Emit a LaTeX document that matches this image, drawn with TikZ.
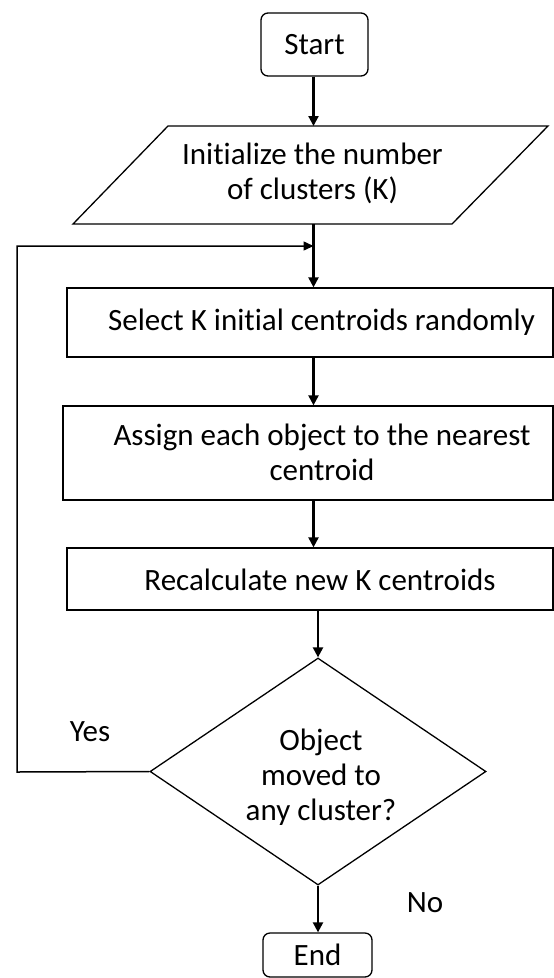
\documentclass[tikz,border=0pt]{standalone}
\usepackage{fontspec}
\setmainfont{Carlito}[Ligatures=NoCommon]
\usetikzlibrary{shapes.geometric,arrows.meta}
\tikzset{
  box/.style={draw,line width=1.3pt,inner sep=0pt},
  rbox/.style={box,rounded corners=7pt,align=center,font=\fontsize{31}{35}\selectfont},
  txt/.style={inner sep=0pt,align=center,font=\fontsize{31}{35}\selectfont},
  arr/.style={line width=2.2pt,-{Triangle[length=10pt,width=10pt]}},
  fb/.style={line width=1.5pt},
}
\begin{document}
\begin{tikzpicture}[x=1pt,y=-1pt]
\useasboundingbox (0,0) rectangle (554,978);
% Start
\node[rbox,minimum width=107pt,minimum height=63pt] (start) at (314.5,44.5) {Start};
% Initialize (parallelogram)
\coordinate (pTL) at (168,126);
\coordinate (pTR) at (548,126);
\coordinate (pBR) at (452,224);
\coordinate (pBL) at (73,224);
\draw[line width=1.3pt] (pTL) -- (pTR) -- (pBR) -- (pBL) -- cycle;
\node[txt] (init) at (312.5,173) {Initialize the number\\of clusters (K)};
\coordinate (initT) at (313.5,126);
\coordinate (initB) at (313.5,224);
% Boxes
\node[box,minimum width=486pt,minimum height=69pt] (sel) at (310,322.5) {};
\node[txt] (selt) at (321.5,322.5) {Select K initial centroids randomly};
\node[box,minimum width=490pt,minimum height=94pt] (asg) at (308,453) {};
\node[txt] (asgt) at (322,452) {Assign each object to the nearest\\centroid};
\node[box,minimum width=486pt,minimum height=62pt] (rec) at (310,579) {};
\node[txt] (rect) at (320,580) {Recalculate new K centroids};
% Decision
\node[box,diamond,aspect=1.48,minimum width=336pt,minimum height=227pt] (dec) at (318,771.5) {};
\node[txt] (dect) at (321,777) {Object\\moved to\\any cluster?};
% End
\node[rbox,minimum width=109pt,minimum height=44pt] (end) at (317.5,955) {End};
% Connectors
\draw[arr] (start.south -| initT) -- (initT);
\draw[arr] (initB) -- (initB |- sel.north);
\draw[arr] (sel.south -| initT) -- (asg.north -| initT);
\draw[arr] (asg.south -| initT) -- (rec.north -| initT);
\draw[arr] (rec.south -| dec.north) -- (dec.north);
\draw[arr] (dec.south) -- (end.north -| dec.south);
\coordinate (loopL) at (17,772);
\coordinate (loopT) at (17,246);
\coordinate (loopE) at (313.5,246);
\draw[fb,-{Triangle[length=10pt,width=9pt]}] (dec.west) -- (loopL) -- (loopT) -- (loopE);
% Labels
\node[txt] (yes) at (90,732) {Yes};
\node[txt] (no) at (425,903) {No};
\end{tikzpicture}
\end{document}
